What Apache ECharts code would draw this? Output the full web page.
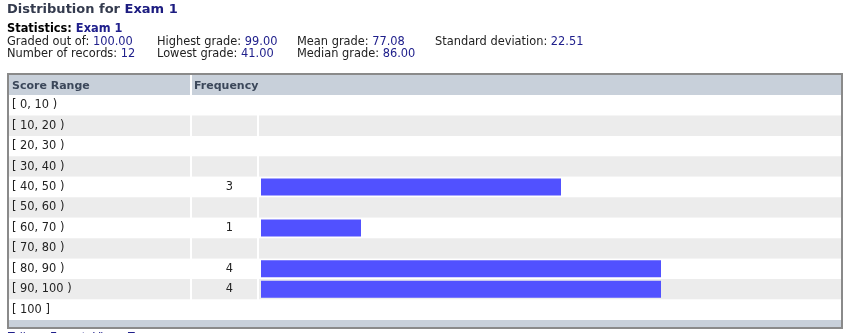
<!DOCTYPE html>
<html>
<head>
<meta charset="utf-8">
<script src="https://cdn.jsdelivr.net/npm/echarts@6/dist/echarts.min.js"></script>
<style>
html,body{margin:0;padding:0;background:#fff;}
#chart{width:845px;height:333px;}
</style>
</head>
<body>
<div id="chart"></div>
<script>
// ---- data ----
const titlePrefix = 'Distribution for ';
const examName = 'Exam 1';
const statLabelsRow1 = ['Graded out of: ', 'Highest grade: ', 'Mean grade: ', 'Standard deviation: '];
const statValuesRow1 = ['100.00', '99.00', '77.08', '22.51'];
const statLabelsRow2 = ['Number of records: ', 'Lowest grade: ', 'Median grade: '];
const statValuesRow2 = ['12', '41.00', '86.00'];
const headers = ['Score Range', 'Frequency'];
const categories = ['[ 0, 10 )', '[ 10, 20 )', '[ 20, 30 )', '[ 30, 40 )', '[ 40, 50 )', '[ 50, 60 )',
                    '[ 60, 70 )', '[ 70, 80 )', '[ 80, 90 )', '[ 90, 100 )', '[ 100 ]'];
const frequencies = [0, 0, 0, 0, 3, 0, 1, 0, 4, 4, 0];
const footerLinks = ['Tally', 'Export', 'View', 'Top'];

// ---- style ----
const FONT = '"DejaVu Sans", Verdana, sans-serif';
const TXT = '#222222';
const BLUE = '#20208c';
const TITLE_DARK = '#343b4e';
const TITLE_BLUE = '#1c1c80';
const HEAD_BG = '#c8d0da';
const ZEBRA = ['#ffffff', '#ececec'];
const statColX = [7, 157, 297, 435];
const STAT_FS = 11.4;

const chart = echarts.init(document.getElementById('chart'), null, {renderer: 'canvas'});

function rs(size, color, bold) {
  return {fontFamily: FONT, fontSize: size, fontWeight: bold ? 'bold' : 'normal', fill: color, color: color};
}

function statText(label, value, x, top) {
  return {
    type: 'text', left: x, top: top,
    style: {
      text: '{l|' + label + '}{v|' + value + '}',
      rich: {l: rs(STAT_FS, TXT, false), v: rs(STAT_FS, BLUE, false)}
    }
  };
}

const graphics = [];
// title
graphics.push({
  type: 'text', left: 7, top: 3.5,
  style: {
    text: '{a|' + titlePrefix + '}{b|' + examName + '}',
    rich: {a: rs(13, TITLE_DARK, true), b: rs(13, TITLE_BLUE, true)}
  }
});
graphics.push({
  type: 'text', left: 7, top: 23.5,
  style: {
    text: '{a|Statistics: }{b|' + examName + '}',
    rich: {a: rs(STAT_FS, '#000000', true), b: rs(STAT_FS, BLUE, true)}
  }
});
statLabelsRow1.forEach((l, i) => graphics.push(statText(l, statValuesRow1[i], statColX[i], 36.5)));
statLabelsRow2.forEach((l, i) => graphics.push(statText(l, statValuesRow2[i], statColX[i], 49)));

// header band
graphics.push({type: 'rect', shape: {x: 9, y: 75, width: 181, height: 20}, style: {fill: HEAD_BG}, silent: true});
graphics.push({type: 'rect', shape: {x: 192, y: 75, width: 649, height: 20}, style: {fill: HEAD_BG}, silent: true});
graphics.push({type: 'text', left: 12, top: 80.5, style: {text: headers[0], font: 'bold 11px ' + FONT, fill: '#3b475a'}});
graphics.push({type: 'text', left: 194, top: 80.5, style: {text: headers[1], font: 'bold 11px ' + FONT, fill: '#3b475a'}});
// bottom band
graphics.push({type: 'rect', shape: {x: 9, y: 320, width: 832, height: 7}, style: {fill: HEAD_BG}, silent: true});
// outer border
graphics.push({type: 'rect', shape: {x: 8, y: 74, width: 834, height: 254}, style: {fill: null, stroke: '#8a8a8a', lineWidth: 2}, silent: true, z: 100});
// footer links (cut off by the canvas edge)
const footX = [8, 50, 93, 128];
footerLinks.forEach((t, i) => graphics.push({type: 'text', left: footX[i], top: 332, style: {text: t, font: '11px ' + FONT, fill: BLUE}}));

const yBase = {
  type: 'category', data: categories, inverse: true,
  axisLine: {show: false}, axisTick: {show: false}, splitLine: {show: false},
  splitArea: {show: true, areaStyle: {color: ZEBRA}}
};

const option = {
  backgroundColor: '#ffffff',
  animation: false,
  textStyle: {fontFamily: FONT},
  grid: [
    {left: 9, width: 181, top: 95, bottom: 13, containLabel: false},
    {left: 192, width: 65, top: 95, bottom: 13, containLabel: false},
    {left: 259, right: 4, top: 95, bottom: 13, containLabel: false}
  ],
  xAxis: [
    {gridIndex: 0, type: 'value', min: 0, max: 1, show: false},
    {gridIndex: 1, type: 'value', min: 0, max: 1, show: false},
    {gridIndex: 2, type: 'value', min: -0.02, max: 5.8, show: false}
  ],
  yAxis: [
    Object.assign({}, yBase, {gridIndex: 0, position: 'left',
      axisLabel: {inside: true, margin: 3, color: TXT, fontSize: 11.4, fontFamily: FONT, align: 'left'}}),
    Object.assign({}, yBase, {gridIndex: 1, position: 'right',
      axisLabel: {inside: true, margin: 24, color: TXT, fontSize: 11.4, fontFamily: FONT, align: 'right',
        formatter: (v, i) => frequencies[i] ? String(frequencies[i]) : ''}}),
    Object.assign({}, yBase, {gridIndex: 2, position: 'left', axisLabel: {show: false}})
  ],
  series: [{
    type: 'bar', xAxisIndex: 2, yAxisIndex: 2,
    data: frequencies,
    barWidth: 17,
    itemStyle: {color: '#5151ff'},
    silent: true
  }],
  graphic: graphics
};
chart.setOption(option);
</script>
</body>
</html>
